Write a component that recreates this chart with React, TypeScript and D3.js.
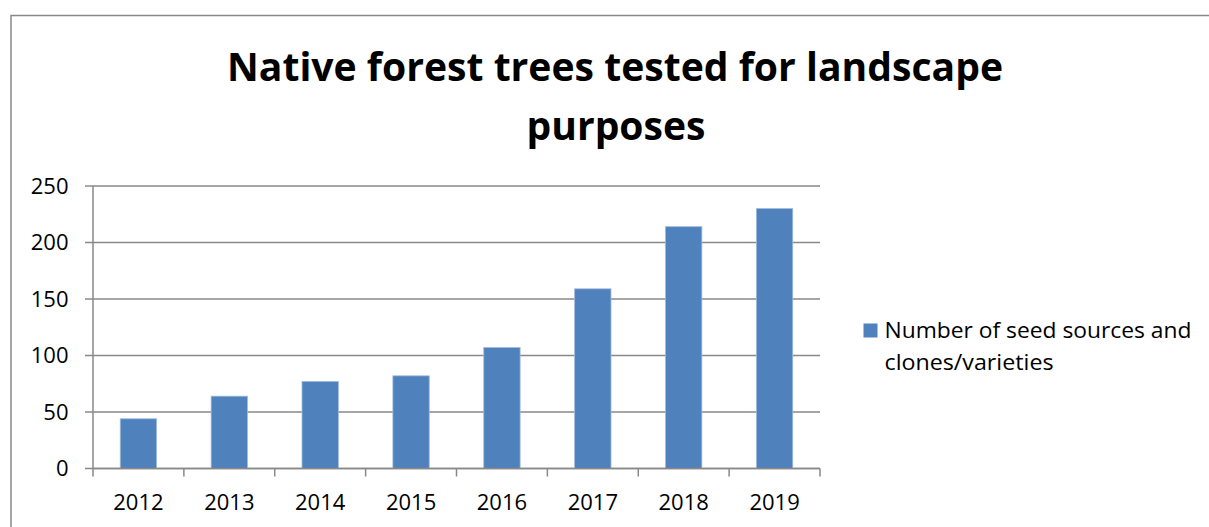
import React from "react";
import * as d3 from "d3";

// Chart data
const years = ["2012", "2013", "2014", "2015", "2016", "2017", "2018", "2019"];
const seedSources = [44, 64, 77, 82, 107, 159, 214, 230];
const yTicks = [0, 50, 100, 150, 200, 250];
const titleLines = ["Native forest trees tested for landscape", "purposes"];
const legendLines = ["Number of seed sources and", "clones/varieties"];

const W = 1209;
const H = 527;
const FONT = "'Open Sans', 'Noto Sans', sans-serif";
const BAR = "#4F81BD";
const GRID = "#898989";

export default function App() {
  const plot = { left: 93, right: 820, top: 186, bottom: 468.5 };

  const x = d3
    .scaleBand<string>()
    .domain(years)
    .range([plot.left, plot.right])
    .paddingInner(0.6)
    .paddingOuter(0.3);
  const band = d3.scaleBand<string>().domain(years).range([plot.left, plot.right]);
  const y = d3.scaleLinear().domain([0, 250]).range([plot.bottom, plot.top]);

  const tickLen = 8;

  return (
    <svg
      width={W}
      height={H}
      style={{ position: "absolute", left: 0, top: 0, background: "#fff" }}
      fontFamily={FONT}
    >
      {/* chart frame */}
      <rect x={11} y={15.5} width={1400} height={800} fill="#fff" stroke={GRID} strokeWidth={1.5} />

      {/* title */}
      <text
        x={615}
        y={81}
        textAnchor="middle"
        fontWeight="bold"
        fontSize={40}
        textLength={776}
        lengthAdjust="spacingAndGlyphs"
        fill="#000"
      >
        {titleLines[0]}
      </text>
      <text
        x={616}
        y={139.5}
        textAnchor="middle"
        fontWeight="bold"
        fontSize={40}
        textLength={179}
        lengthAdjust="spacingAndGlyphs"
        fill="#000"
      >
        {titleLines[1]}
      </text>

      {/* horizontal gridlines and y ticks */}
      {yTicks.map((t) => (
        <g key={t}>
          <line
            x1={plot.left - tickLen}
            x2={plot.right}
            y1={y(t)}
            y2={y(t)}
            stroke={GRID}
            strokeWidth={1.5}
          />
          <text
            x={68.5}
            y={y(t)}
            dy="0.36em"
            textAnchor="end"
            fontSize={22}
            fill="#000"
          >
            {t}
          </text>
        </g>
      ))}

      {/* y axis line */}
      <line x1={plot.left} x2={plot.left} y1={plot.top} y2={plot.bottom} stroke={GRID} strokeWidth={1.5} />

      {/* bars */}
      {years.map((yr, i) => (
        <rect
          key={yr}
          x={x(yr)}
          y={y(seedSources[i])}
          width={x.bandwidth()}
          height={plot.bottom - y(seedSources[i])}
          fill={BAR}
          stroke="#9fbadb"
          strokeWidth={0.8}
        />
      ))}

      {/* x axis with category ticks */}
      <line x1={plot.left} x2={plot.right} y1={plot.bottom} y2={plot.bottom} stroke={GRID} strokeWidth={1.5} />
      {years.map((yr) => (
        <line
          key={"t" + yr}
          x1={band(yr)}
          x2={band(yr)}
          y1={plot.bottom}
          y2={plot.bottom + tickLen}
          stroke={GRID}
          strokeWidth={1.5}
        />
      ))}
      <line
        x1={plot.right}
        x2={plot.right}
        y1={plot.bottom}
        y2={plot.bottom + tickLen}
        stroke={GRID}
        strokeWidth={1.5}
      />
      {years.map((yr) => (
        <text
          key={"l" + yr}
          x={(band(yr) as number) + band.bandwidth() / 2}
          y={510}
          textAnchor="middle"
          fontSize={22}
          fill="#000"
        >
          {yr}
        </text>
      ))}

      {/* legend */}
      <rect x={863.5} y={323.5} width={14} height={14} fill={BAR} />
      <text x={884.5} y={337.5} fontSize={22.5} textLength={307} lengthAdjust="spacingAndGlyphs" fill="#000">
        {legendLines[0]}
      </text>
      <text x={884.5} y={370} fontSize={22.5} textLength={169} lengthAdjust="spacingAndGlyphs" fill="#000">
        {legendLines[1]}
      </text>
    </svg>
  );
}
